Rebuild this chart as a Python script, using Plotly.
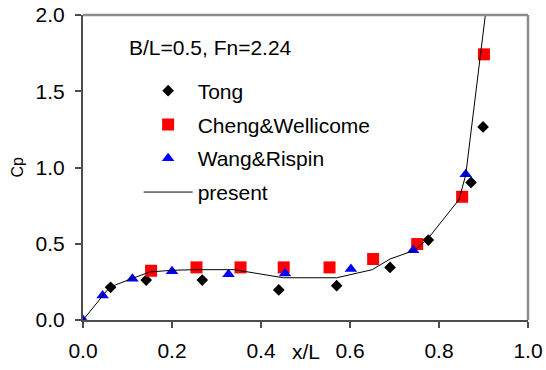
import plotly.graph_objects as go

# ---- data ----
tong_x = [0.062, 0.142, 0.268, 0.440, 0.570, 0.690, 0.776, 0.872, 0.899]
tong_y = [0.214, 0.262, 0.262, 0.197, 0.225, 0.345, 0.524, 0.902, 1.266]

cheng_x = [0.153, 0.255, 0.354, 0.451, 0.554, 0.652, 0.751, 0.852, 0.901]
cheng_y = [0.323, 0.345, 0.345, 0.345, 0.345, 0.400, 0.498, 0.808, 1.742]

wang_x = [0.0, 0.044, 0.111, 0.200, 0.327, 0.454, 0.602, 0.742, 0.860]
wang_y = [0.0, 0.160, 0.270, 0.320, 0.300, 0.305, 0.334, 0.458, 0.956]

present_x = [0.0, 0.045, 0.060, 0.110, 0.150, 0.200, 0.250, 0.340, 0.450, 0.570,
             0.650, 0.690, 0.745, 0.775, 0.845, 0.860, 0.905]
present_y = [0.0, 0.165, 0.215, 0.272, 0.315, 0.326, 0.330, 0.330, 0.277, 0.277,
             0.330, 0.400, 0.457, 0.533, 0.790, 0.950, 2.020]

x_ticks = [0.0, 0.2, 0.4, 0.6, 0.8, 1.0]
x_ticktext = ["0.0", "0.2", "0.4", "0.6", "0.8", "1.0"]
y_ticks = [0.0, 0.5, 1.0, 1.5, 2.0]
y_ticktext = ["0.0", "0.5", "1.0", "1.5", "2.0"]

FONT = "Arial, Liberation Sans, sans-serif"
FS = 21

fig = go.Figure()
fig.add_trace(go.Scatter(x=tong_x, y=tong_y, mode="markers", name="Tong",
                         legendgroup="a",
                         marker=dict(symbol="diamond", size=9, color="black")))
fig.add_trace(go.Scatter(x=cheng_x, y=cheng_y, mode="markers", name="Cheng&Wellicome",
                         legendgroup="b",
                         marker=dict(symbol="square", size=12, color="#FF0000")))
fig.add_trace(go.Scatter(x=wang_x, y=wang_y, mode="markers", name="Wang&Rispin",
                         legendgroup="c",
                         marker=dict(symbol="triangle-up", size=11, color="#0000FF")))
fig.add_trace(go.Scatter(x=present_x, y=present_y, mode="lines", name="present",
                         legendgroup="d",
                         line=dict(color="black", width=1)))

fig.update_layout(
    width=546, height=370,
    margin=dict(l=83, r=18, t=15, b=50),
    paper_bgcolor="white", plot_bgcolor="white",
    font=dict(family=FONT, size=FS, color="black"),
    showlegend=True,
    legend=dict(x=0.125, y=0.818, xanchor="left", yanchor="top",
                bgcolor="rgba(0,0,0,0)", borderwidth=0,
                font=dict(family=FONT, size=FS, color="black"),
                tracegroupgap=3.5, itemwidth=49),
    xaxis=dict(range=[0, 1], tickvals=x_ticks, ticktext=x_ticktext,
               showgrid=False, zeroline=False, showline=True, automargin=False,
               linecolor="#4d4d4d", linewidth=2,
               ticks="outside", ticklen=6, tickwidth=1.5, tickcolor="#4d4d4d",
               ticklabelstandoff=5,
               tickfont=dict(family=FONT, size=FS, color="black")),
    yaxis=dict(range=[0, 2], tickvals=y_ticks, ticktext=y_ticktext,
               showgrid=False, zeroline=False, showline=True, automargin=False,
               linecolor="#4d4d4d", linewidth=2,
               ticks="outside", ticklen=6, tickwidth=1.5, tickcolor="#4d4d4d",
               ticklabelstandoff=6,
               tickfont=dict(family=FONT, size=FS, color="black")),
    shapes=[
        dict(type="line", xref="paper", yref="paper", x0=0, x1=1, y0=1, y1=1,
             line=dict(color="#8c8c8c", width=2.5)),
        dict(type="line", xref="paper", yref="paper", x0=1, x1=1, y0=0, y1=1,
             line=dict(color="#8c8c8c", width=2.5)),
    ],
    annotations=[
        dict(text="B/L=0.5, Fn=2.24", xref="paper", yref="paper",
             x=(127 - 83) / 445, y=(320 - 48) / 305, xanchor="left", yanchor="middle",
             showarrow=False, font=dict(family=FONT, size=FS, color="black")),
        dict(text="x/L", xref="x", yref="paper", x=0.5, y=0, yshift=-31,
             xanchor="center", yanchor="middle", showarrow=False,
             font=dict(family=FONT, size=FS, color="black")),
        dict(text="Cp", xref="paper", yref="paper", x=0, y=0.5, xshift=-66,
             xanchor="center", yanchor="middle", textangle=-90, showarrow=False,
             font=dict(family=FONT, size=16, color="black")),
    ],
)

fig.write_html("out.html")
